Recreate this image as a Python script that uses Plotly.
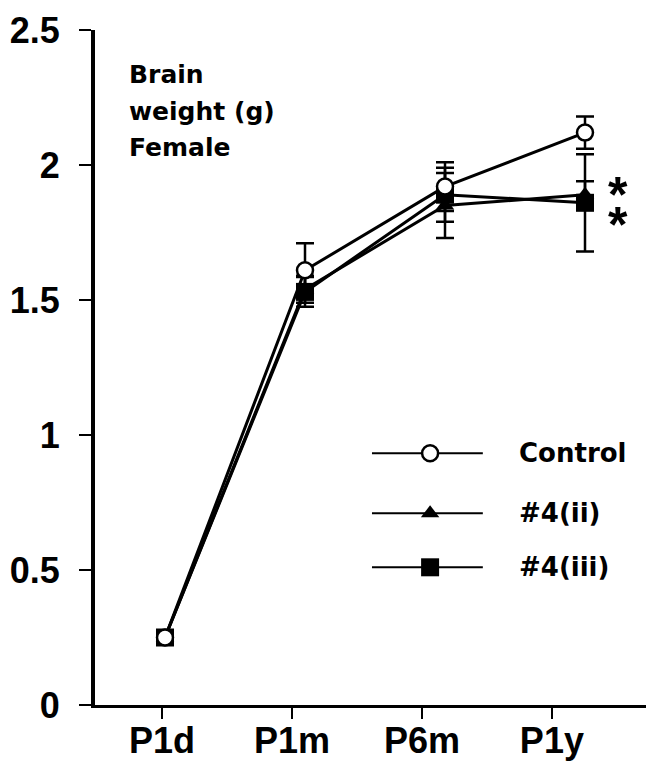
import plotly.graph_objects as go

# ---------------- data ----------------
categories = ["P1d", "P1m", "P6m", "P1y"]
control = [0.25, 1.61, 1.92, 2.12]
control_err = [0.0, 0.10, 0.09, 0.06]
ii = [0.25, 1.54, 1.85, 1.89]
ii_err = [0.0, 0.05, 0.12, 0.05]
iii = [0.25, 1.53, 1.89, 1.86]
iii_err = [0.0, 0.055, 0.10, 0.18]
y_ticks = [0, 0.5, 1, 1.5, 2, 2.5]
y_ticktext = ["0", "0.5", "1", "1.5", "2", "2.5"]
series_names = ["Control", "#4(ii)", "#4(iii)"]
panel_lines = ["Brain", "weight (g)", "Female"]
signif_y = [1.924, 1.812]   # asterisks beside P1y

# ---------------- style ----------------
TICKFONT = dict(family="Liberation Sans, Arial", size=36, color="black", weight="bold")
ANNFONT = dict(family="DejaVu Sans", size=25, color="black", weight="bold")
LEGFONT = dict(family="DejaVu Sans", size=26, color="black", weight="bold")
idx = list(range(len(categories)))

fig = go.Figure()

# empty scaffold trace so the category tick axis (x) is rendered
fig.add_trace(go.Scatter(x=[], y=[], xaxis="x", yaxis="y", mode="markers",
                         showlegend=False, hoverinfo="skip"))

def err(arr):
    return dict(type="data", array=arr, symmetric=True, thickness=2.5, width=9, color="black")

# #4(ii) triangles
fig.add_trace(go.Scatter(
    x=idx, y=ii, xaxis="x2", yaxis="y", mode="lines+markers", name=series_names[1],
    line=dict(color="black", width=3),
    marker=dict(symbol="triangle-up", size=16, color="black"),
    error_y=err(ii_err), cliponaxis=False, showlegend=False))
# #4(iii) squares
fig.add_trace(go.Scatter(
    x=idx, y=iii, xaxis="x2", yaxis="y", mode="lines+markers", name=series_names[2],
    line=dict(color="black", width=3),
    marker=dict(symbol="square", size=18, color="black"),
    error_y=err(iii_err), cliponaxis=False, showlegend=False))
# Control open circles
fig.add_trace(go.Scatter(
    x=idx, y=control, xaxis="x2", yaxis="y", mode="lines+markers", name=series_names[0],
    line=dict(color="black", width=3),
    marker=dict(symbol="circle", size=16, color="white", line=dict(color="black", width=2.5)),
    error_y=err(control_err), cliponaxis=False, showlegend=False))

# ---------------- hand-drawn legend (separate [0,1] subplot on top) ----------------
leg_y = [0.373, 0.284, 0.204]
leg_sym = [
    dict(symbol="circle", size=16, color="white", line=dict(color="black", width=2.5)),
    dict(symbol="triangle-up", size=16, color="black"),
    dict(symbol="square", size=18, color="black"),
]
for ly, ms, nm in zip(leg_y, leg_sym, series_names):
    fig.add_trace(go.Scatter(x=[0.4885, 0.684], y=[ly, ly], xaxis="x3", yaxis="y3",
                             mode="lines", line=dict(color="black", width=2),
                             showlegend=False, hoverinfo="skip"))
    fig.add_trace(go.Scatter(x=[0.591], y=[ly], xaxis="x3", yaxis="y3",
                             mode="markers", marker=ms, showlegend=False, hoverinfo="skip"))
    fig.add_annotation(x=0.744, y=ly, xref="x3", yref="y3", text=nm, showarrow=False,
                       xanchor="left", yanchor="middle", font=LEGFONT)

# asterisks next to P1y (compact boxes)
for yv in signif_y:
    fig.add_annotation(x=3, y=yv, xref="x2", yref="y", text="*", showarrow=False,
                       xanchor="center", yanchor="middle", xshift=33, yshift=4,
                       height=30, valign="top",
                       font=dict(family="Liberation Sans, Arial", size=50, color="black", weight="bold"))

# panel label (three lines)
for k, t in enumerate(panel_lines):
    fig.add_annotation(x=0.0564, y=0.958, xref="paper", yref="paper", yshift=-36.5 * k,
                       text=t, showarrow=False, xanchor="left", yanchor="top",
                       align="left", font=ANNFONT)

fig.update_layout(
    width=654, height=758,
    margin=dict(l=87, r=0, t=22, b=61, autoexpand=False),
    paper_bgcolor="white", plot_bgcolor="rgba(0,0,0,0)",
    showlegend=False,
    xaxis=dict(range=[-0.515, 3.847], tickvals=idx, ticktext=categories,
               showline=True, linewidth=2.5, linecolor="black",
               ticks="outside", ticklen=11, tickwidth=2, tickcolor="black",
               ticklabelstandoff=-9,
               tickfont=TICKFONT, showgrid=False, zeroline=False, automargin=False),
    xaxis2=dict(range=[-0.5, 3.55], overlaying="x", anchor="y", visible=False),
    xaxis3=dict(range=[0, 1], domain=[0, 1], anchor="y3", visible=False),
    yaxis=dict(range=[0, 2.5], tickvals=y_ticks, ticktext=y_ticktext,
               showline=True, linewidth=4, linecolor="black",
               ticks="outside", ticklen=12, tickwidth=2, tickcolor="black",
               ticklabelstandoff=12,
               tickfont=TICKFONT, showgrid=False, zeroline=False, automargin=False),
    yaxis3=dict(range=[0, 1], domain=[0, 1], anchor="x3", visible=False),
)

fig.write_html("out.html")
